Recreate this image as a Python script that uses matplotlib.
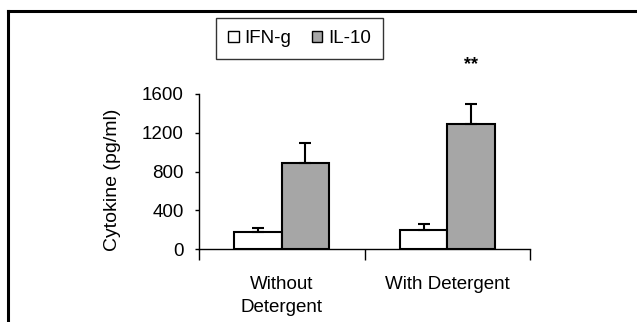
import matplotlib.pyplot as plt
from matplotlib.lines import Line2D
from matplotlib.patches import Patch
import numpy as np

plt.rcParams['font.family'] = ['Liberation Sans', 'DejaVu Sans']

categories = ["Without\nDetergent", "With Detergent"]
series = ["IFN-g", "IL-10"]
ifng = [175, 196]
ifng_err = [47, 65]
il10 = [892, 1291]
il10_err = [206, 209]
yticks = [0, 400, 800, 1200, 1600]

fig = plt.figure(figsize=(6.37, 3.22), dpi=100)
ax = fig.add_axes([199 / 637, 1 - 249.3 / 322, 331 / 637, 155.3 / 322])

x = np.arange(len(categories))
w = 0.287
err_kw = dict(ecolor="black", elinewidth=1.5, capsize=4.3, capthick=1.5)
ax.bar(x - w / 2, ifng, w, color="white", edgecolor="black", linewidth=1.5,
       yerr=[np.zeros(2), ifng_err], error_kw=err_kw, zorder=2)
ax.bar(x + w / 2, il10, w, color="#a6a6a6", edgecolor="black", linewidth=1.5,
       yerr=[np.zeros(2), il10_err], error_kw=err_kw, zorder=2)

ax.set_xlim(-0.5, 1.5)
ax.set_ylim(0, 1600)
ax.set_yticks(yticks)
ax.tick_params(axis="y", labelsize=13.5, length=3, width=1, pad=8)
ax.set_ylabel("Cytokine (pg/ml)", fontsize=14)
ax.yaxis.set_label_coords((121 - 199) / 331, 0.45)

ax.set_xticks([-0.5, 0.5, 1.5])
ax.set_xticklabels([])
ax.tick_params(axis="x", which="major", length=8, width=1)
ax.set_xticks(x, minor=True)
ax.set_xticklabels(categories, minor=True, fontsize=13.5, linespacing=1.45)
ax.tick_params(axis="x", which="minor", length=0, pad=19)

for s in ["top", "right"]:
    ax.spines[s].set_visible(False)
for s in ["left", "bottom"]:
    ax.spines[s].set_linewidth(1)

ax.text(1 + w / 2, 1900, "**", ha="center", va="center", fontsize=13, fontweight="bold")

handles = [Patch(facecolor="white", edgecolor="black", linewidth=1, label=series[0]),
           Patch(facecolor="#a6a6a6", edgecolor="black", linewidth=1, label=series[1])]
leg = fig.legend(handles=handles, loc="center", ncol=2,
                 bbox_to_anchor=(299.6 / 637, 1 - 38.3 / 322),
                 fontsize=13.5, frameon=True, fancybox=False, edgecolor="black",
                 handlelength=0.55, handleheight=0.55, handletextpad=0.3,
                 columnspacing=1.1, borderpad=0.65, borderaxespad=0)
leg.get_frame().set_linewidth(1)

# outer frame (cut off at bottom)
fig.add_artist(Line2D([7.5 / 637, 7.5 / 637], [0, 1 - 10.5 / 322],
                      transform=fig.transFigure, color="black", linewidth=2.2))
fig.add_artist(Line2D([7.5 / 637, 1], [1 - 10.5 / 322, 1 - 10.5 / 322],
                      transform=fig.transFigure, color="black", linewidth=2.2))

fig.savefig("out.png", dpi=100)
